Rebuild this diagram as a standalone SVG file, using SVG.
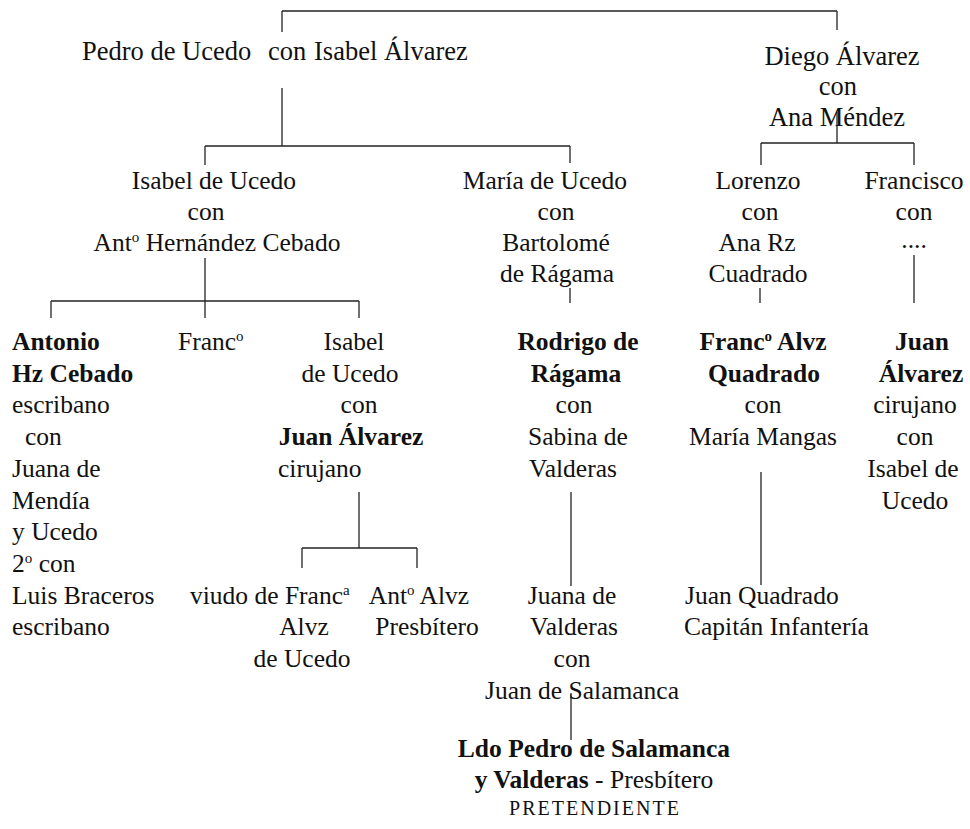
<svg xmlns="http://www.w3.org/2000/svg" width="970" height="829" viewBox="0 0 970 829">
<style>
text{font-family:"Liberation Serif","Times New Roman",serif;font-size:25.5px;fill:#111}
.m{text-anchor:middle}
.b{font-weight:bold}
.top{font-size:26.5px}
.sup{font-size:15px}
.small{font-size:20px;letter-spacing:2px}
#connectors line{stroke:#222;stroke-width:1.3;fill:none}
</style>
<rect width="970" height="829" fill="#fff"/>
<g id="connectors">
<line x1="282" y1="11" x2="837" y2="11"/>
<line x1="282" y1="11" x2="282" y2="32"/>
<line x1="837" y1="11" x2="837" y2="30"/>
<line x1="282" y1="88" x2="282" y2="146"/>
<line x1="205" y1="146" x2="570" y2="146"/>
<line x1="205" y1="146" x2="205" y2="165"/>
<line x1="570" y1="146" x2="570" y2="163"/>
<line x1="837" y1="112" x2="837" y2="143"/>
<line x1="761" y1="143" x2="914" y2="143"/>
<line x1="761" y1="143" x2="761" y2="165"/>
<line x1="914" y1="143" x2="914" y2="165"/>
<line x1="205" y1="258" x2="205" y2="318"/>
<line x1="51" y1="301" x2="359" y2="301"/>
<line x1="51" y1="301" x2="51" y2="318"/>
<line x1="359" y1="301" x2="359" y2="318"/>
<line x1="570" y1="288" x2="570" y2="303"/>
<line x1="760" y1="288" x2="760" y2="303"/>
<line x1="914" y1="255" x2="914" y2="303"/>
<line x1="359" y1="492" x2="359" y2="548"/>
<line x1="302" y1="548" x2="417" y2="548"/>
<line x1="302" y1="548" x2="302" y2="568"/>
<line x1="417" y1="548" x2="417" y2="568"/>
<line x1="571" y1="492" x2="571" y2="586"/>
<line x1="761" y1="472" x2="761" y2="585"/>
<line x1="571" y1="693" x2="571" y2="740"/>
</g>
<g id="pedro">
<text class="top" x="82" y="60">Pedro de Ucedo</text>
<text class="top" x="268" y="60">con</text>
<text class="top" x="314" y="60">Isabel Álvarez</text>
</g>
<g id="diego">
<text class="m top" x="842" y="65">Diego Álvarez</text>
<text class="m top" x="838" y="95">con</text>
<text class="m top" x="837" y="126">Ana Méndez</text>
</g>
<g id="isabel1">
<text class="m" x="214" y="189">Isabel de Ucedo</text>
<text class="m" x="206" y="220">con</text>
<text class="m" x="217" y="251">Ant<tspan class="sup" dy="-9">o</tspan><tspan dy="9"> Hernández Cebado</tspan></text>
</g>
<g id="maria">
<text class="m" x="545" y="189">María de Ucedo</text>
<text class="m" x="556" y="220">con</text>
<text class="m" x="556" y="251">Bartolomé</text>
<text class="m" x="557" y="282">de Rágama</text>
</g>
<g id="lorenzo">
<text class="m" x="758" y="189">Lorenzo</text>
<text class="m" x="760" y="220">con</text>
<text class="m" x="757" y="251">Ana Rz</text>
<text class="m" x="758" y="282">Cuadrado</text>
</g>
<g id="francisco">
<text class="m" x="914" y="189">Francisco</text>
<text class="m" x="914" y="220">con</text>
<text class="m" x="914" y="248">....</text>
</g>
<g id="antonio">
<text class="b" x="12" y="350">Antonio</text>
<text class="b" x="12" y="382">Hz Cebado</text>
<text x="12" y="413">escribano</text>
<text x="25" y="445">con</text>
<text x="12" y="477">Juana de</text>
<text x="12" y="509">Mendía</text>
<text x="12" y="540">y Ucedo</text>
<text x="12" y="572">2<tspan class="sup" dy="-9">o</tspan><tspan dy="9"> con</tspan></text>
<text x="12" y="604">Luis Braceros</text>
<text x="12" y="635">escribano</text>
</g>
<g id="franco">
<text x="178" y="350">Franc<tspan class="sup" dy="-9">o</tspan></text>
</g>
<g id="isabel2">
<text class="m" x="354" y="350">Isabel</text>
<text class="m" x="350" y="382">de Ucedo</text>
<text class="m" x="359" y="413">con</text>
<text class="m b" x="351" y="445">Juan Álvarez</text>
<text x="278" y="477">cirujano</text>
</g>
<g id="rodrigo">
<text class="m b" x="578" y="350">Rodrigo de</text>
<text class="m b" x="576" y="382">Rágama</text>
<text class="m" x="574" y="413">con</text>
<text class="m" x="578" y="445">Sabina de</text>
<text class="m" x="573" y="477">Valderas</text>
</g>
<g id="francoalvz">
<text class="m b" x="763" y="350">Franc<tspan class="sup" dy="-9">o</tspan><tspan dy="9"> Alvz</tspan></text>
<text class="m b" x="764" y="382">Quadrado</text>
<text class="m" x="763" y="413">con</text>
<text class="m" x="763" y="445">María Mangas</text>
</g>
<g id="juan">
<text class="m b" x="922" y="350">Juan</text>
<text class="m b" x="921" y="382">Álvarez</text>
<text class="m" x="915" y="413">cirujano</text>
<text class="m" x="915" y="445">con</text>
<text class="m" x="913" y="477">Isabel de</text>
<text class="m" x="915" y="509">Ucedo</text>
</g>
<g id="viudo">
<text x="190" y="604">viudo de Franc<tspan class="sup" dy="-9">a</tspan></text>
<text class="m" x="304" y="635">Alvz</text>
<text class="m" x="302" y="667">de Ucedo</text>
</g>
<g id="antalvz">
<text class="m" x="419" y="604">Ant<tspan class="sup" dy="-9">o</tspan><tspan dy="9"> Alvz</tspan></text>
<text class="m" x="427" y="635">Presbítero</text>
</g>
<g id="juana">
<text class="m" x="572" y="604">Juana de</text>
<text class="m" x="574" y="635">Valderas</text>
<text class="m" x="572" y="667">con</text>
<text class="m" x="582" y="699">Juan de Salamanca</text>
</g>
<g id="juanquadrado">
<text x="685" y="604">Juan Quadrado</text>
<text x="684" y="635">Capitán Infantería</text>
</g>
<g id="ldopedro">
<text class="m b" x="594" y="757">Ldo Pedro de Salamanca</text>
<text class="m" x="594" y="788"><tspan class="b">y Valderas</tspan> - Presbítero</text>
<text class="m small" x="595" y="815">PRETENDIENTE</text>
</g>
</svg>
